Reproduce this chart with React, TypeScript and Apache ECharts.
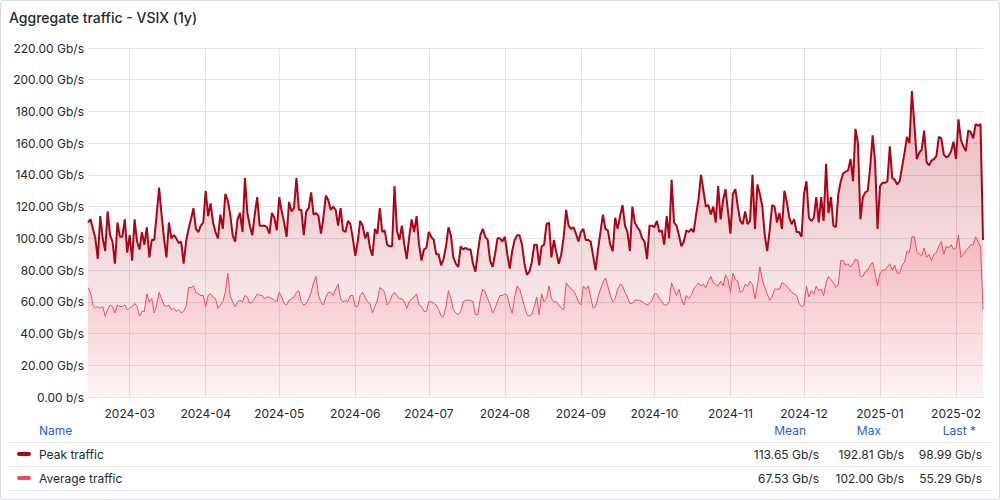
import React, { useEffect, useRef } from 'react';
import * as echarts from 'echarts';

const TITLE = 'Aggregate traffic - VSIX (1y)';
const START_DATE = [2024, 1, 13]; // 2024-02-13, one point per day
const seriesNames = ['Peak traffic', 'Average traffic'];
const seriesColors = ['#ad0317', '#f2495c'];

const peakTraffic = [
  110, 112, 106, 100, 87, 114, 100, 92, 117, 102, 98, 84, 110, 101, 101, 112, 91, 102, 86, 112, 98, 93, 104, 96, 107, 88, 99, 99, 115, 132, 115, 100, 88, 110, 100, 102,
  100, 97, 98, 84, 98, 106, 112, 119, 106, 104, 108, 110, 130, 114, 122, 110, 104, 100, 115, 106, 128, 124, 115, 102, 98, 112, 116, 104, 138, 116, 108, 102, 115, 126, 108, 108, 108,
  107, 103, 116, 113, 105, 126, 117, 110, 101, 123, 117, 119, 138, 118, 118, 102, 117, 119, 129, 115, 116, 114, 103, 113, 127, 124, 118, 120, 118, 108, 119, 105, 104, 111, 109, 100, 89,
  98, 111, 108, 100, 104, 94, 89, 106, 103, 119, 104, 105, 96, 95, 95, 133, 105, 99, 108, 96, 87, 101, 112, 104, 114, 96, 86, 93, 94, 104, 101, 99, 90, 90, 83, 87, 95,
  107, 102, 88, 84, 82, 95, 93, 94, 93, 93, 84, 79, 91, 102, 106, 101, 99, 86, 82, 90, 100, 100, 98, 101, 90, 81, 92, 99, 102, 102, 96, 84, 77, 79, 85, 96,
  96, 83, 95, 96, 109, 110, 88, 99, 91, 84, 90, 101, 118, 108, 106, 107, 103, 98, 104, 106, 99, 99, 98, 89, 80, 93, 104, 115, 106, 105, 96, 92, 113, 106, 114, 121, 108,
  104, 92, 120, 110, 107, 105, 100, 98, 87, 108, 108, 107, 111, 104, 105, 96, 114, 100, 137, 110, 108, 102, 95, 98, 105, 104, 106, 104, 115, 125, 140, 130, 120, 121, 115, 120, 110,
  133, 112, 124, 131, 117, 103, 128, 131, 120, 111, 109, 117, 109, 111, 140, 106, 134, 128, 120, 102, 92, 105, 121, 120, 110, 116, 106, 130, 123, 113, 109, 112, 104, 104, 101, 128, 136,
  113, 111, 113, 126, 110, 126, 111, 147, 116, 126, 108, 107, 128, 136, 141, 142, 143, 150, 136, 169, 160, 112, 126, 129, 130, 145, 165, 148, 106, 133, 135, 135, 136, 158, 138, 137, 134,
  136, 145, 154, 164, 160, 192.81, 172, 150, 154, 156, 168, 148, 146, 149, 150, 152, 164, 163, 153, 151, 152, 155, 161, 150, 175, 162, 158, 155, 168, 167, 163, 172, 171, 172, 98.99,
];

const averageTraffic = [
  69, 66, 58, 56, 57, 56, 57, 51, 55, 58, 57, 53, 58, 57, 57, 58, 55, 56, 57, 59, 57, 51, 54, 54, 65, 60, 62, 53, 58, 66, 62, 58, 57, 58, 55, 56,
  54, 55, 53, 54, 57, 69, 69, 70, 66, 65, 64, 64, 57, 64, 65, 63, 62, 56, 58, 60, 66, 78, 64, 60, 57, 60, 61, 60, 64, 63, 59, 60, 62, 65, 64, 64, 62,
  63, 63, 62, 61, 60, 66, 63, 59, 58, 61, 62, 63, 66, 67, 60, 58, 59, 62, 66, 72, 76, 64, 60, 58, 63, 66, 66, 64, 68, 71, 62, 60, 61, 60, 64, 64, 57,
  57, 64, 66, 63, 60, 59, 53, 57, 61, 69, 68, 66, 58, 60, 64, 66, 64, 62, 62, 60, 56, 60, 62, 63, 65, 58, 57, 54, 54, 60, 60, 59, 58, 55, 51, 51, 57,
  67, 62, 55, 53, 52, 54, 60, 61, 61, 61, 60, 52, 52, 62, 68, 66, 62, 58, 53, 56, 60, 64, 64, 65, 64, 57, 53, 63, 70, 68, 63, 57, 52, 51, 52, 57,
  63, 52, 65, 60, 62, 70, 62, 60, 60, 58, 56, 55, 72, 70, 68, 67, 64, 60, 58, 70, 68, 70, 63, 56, 57, 63, 68, 72, 75, 70, 64, 60, 62, 68, 71, 70, 66,
  63, 59, 59, 61, 61, 61, 60, 59, 58, 59, 61, 65, 65, 62, 60, 58, 58, 60, 72, 68, 64, 68, 62, 58, 64, 62, 64, 68, 70, 72, 70, 71, 69, 73, 76, 72, 71,
  70, 73, 70, 77, 74, 66, 78, 74, 73, 66, 67, 71, 70, 73, 71, 62, 70, 82, 74, 69, 65, 61, 63, 68, 68, 68, 72, 71, 70, 68, 66, 65, 64, 59, 57, 58, 70,
  63, 67, 65, 70, 67, 68, 64, 72, 76, 74, 72, 69, 71, 86, 86, 83, 84, 82, 84, 87, 86, 76, 76, 79, 80, 83, 85, 78, 70, 78, 80, 80, 82, 84, 80, 83, 78,
  78, 83, 85, 92, 91, 101, 101, 92, 90, 89, 94, 88, 90, 86, 90, 91, 95, 98, 90, 95, 94, 96, 93, 94, 102, 88, 90, 92, 94, 96, 96, 101, 98, 95, 55.29,
];

const legendHeaders = ['Name', 'Mean', 'Max', 'Last *'];
const peakStats = ['113.65 Gb/s', '192.81 Gb/s', '98.99 Gb/s'];
const averageStats = ['67.53 Gb/s', '102.00 Gb/s', '55.29 Gb/s'];

const pad = (n: number) => (n < 10 ? '0' + n : '' + n);
const dates = peakTraffic.map((_, i) => {
  const d = new Date(Date.UTC(START_DATE[0], START_DATE[1], START_DATE[2]) + i * 86400000);
  return `${d.getUTCFullYear()}-${pad(d.getUTCMonth() + 1)}-${pad(d.getUTCDate())}`;
});

const isMonthStart = (_: number, v: string) => typeof v === 'string' && v.slice(8) === '01';

const FONT = 'Inter';
const TEXT = '#24292e';
const BLUE = '#1f62e0';

export default function App() {
  const ref = useRef<HTMLDivElement>(null);
  useEffect(() => {
    if (!ref.current) return;
    const chart = echarts.init(ref.current, undefined, { renderer: 'svg' });
    const colX = [819, 904, 982];
    const headX = [806, 881, 976];
    const rowY = [454, 478];
    const rows = [peakStats, averageStats];
    const graphics: any[] = [
      {
        type: 'rect', silent: true, z: 100,
        shape: { x: 0.5, y: 0.5, width: 999, height: 499, r: 2 },
        style: { fill: 'none', stroke: '#d9d9dd', lineWidth: 1 },
      },
      {
        type: 'text', silent: true,
        style: { text: TITLE, x: 9, y: 17, fill: TEXT, fontSize: 14, fontWeight: 500, fontFamily: FONT, verticalAlign: 'middle', textVerticalAlign: 'middle' },
      },
      {
        type: 'text', silent: true,
        style: { text: legendHeaders[0], x: 39, y: 430, fill: BLUE, fontSize: 12, fontFamily: FONT, verticalAlign: 'middle', textVerticalAlign: 'middle' },
      },
    ];
    for (let i = 1; i < legendHeaders.length; i++) {
      graphics.push({
        type: 'text', silent: true,
        style: { text: legendHeaders[i], x: headX[i - 1], y: 430, fill: BLUE, fontSize: 12, fontFamily: FONT, align: 'right', textAlign: 'right', verticalAlign: 'middle', textVerticalAlign: 'middle' },
      });
    }
    [442.5, 466.5, 490.5].forEach((y) => {
      graphics.push({
        type: 'line', silent: true,
        shape: { x1: 9, y1: y, x2: 991, y2: y },
        style: { stroke: '#e6e6e8', lineWidth: 1 },
      });
    });
    seriesNames.forEach((name, r) => {
      graphics.push({
        type: 'rect', silent: true,
        shape: { x: 17, y: rowY[r] - 2, width: 14, height: 4, r: 2 },
        style: { fill: seriesColors[r] },
      });
      graphics.push({
        type: 'text', silent: true,
        style: { text: name, x: 39, y: rowY[r], fill: TEXT, fontSize: 12, fontFamily: FONT, verticalAlign: 'middle', textVerticalAlign: 'middle' },
      });
      rows[r].forEach((t, c) => {
        graphics.push({
          type: 'text', silent: true,
          style: { text: t, x: colX[c], y: rowY[r], fill: TEXT, fontSize: 12, fontFamily: FONT, align: 'right', textAlign: 'right', verticalAlign: 'middle', textVerticalAlign: 'middle' },
        });
      });
    });

    const grad = (rgb: string, top: number, bottom: number) => ({
      type: 'linear', x: 0, y: 48, x2: 0, y2: 397, global: true,
      colorStops: [
        { offset: 0, color: `rgba(${rgb},${top})` },
        { offset: 1, color: `rgba(${rgb},${bottom})` },
      ],
    });

    chart.setOption({
      animation: false,
      backgroundColor: '#ffffff',
      textStyle: { fontFamily: FONT },
      grid: { left: 88, right: 17, top: 48, bottom: 103, containLabel: false },
      xAxis: {
        type: 'category',
        data: dates,
        boundaryGap: false,
        axisLine: { show: false },
        axisTick: { show: false },
        axisLabel: {
          interval: isMonthStart,
          formatter: (v: string) => v.slice(0, 7),
          color: TEXT, fontSize: 12, fontFamily: FONT, margin: 10,
        },
        splitLine: { show: true, interval: isMonthStart, lineStyle: { color: '#e4e4e6', width: 1 } },
      },
      yAxis: {
        type: 'value',
        min: 0, max: 220, interval: 20,
        axisLine: { show: false },
        axisTick: { show: false },
        axisLabel: {
          formatter: (v: number) => (v === 0 ? '0.00 b/s' : v.toFixed(2) + ' Gb/s'),
          color: TEXT, fontSize: 12, fontFamily: FONT, margin: 4,
        },
        splitLine: { lineStyle: { color: '#e4e4e6', width: 1 } },
      },
      series: [
        {
          name: seriesNames[0], type: 'line', data: peakTraffic, showSymbol: false, symbol: 'none', z: 2,
          lineStyle: { color: seriesColors[0], width: 2 },
          areaStyle: { color: grad('173,3,23', 0.45, 0.02) },
        },
        {
          name: seriesNames[1], type: 'line', data: averageTraffic, showSymbol: false, symbol: 'none', z: 3,
          lineStyle: { color: seriesColors[1], width: 1 },
          areaStyle: { color: grad('242,73,92', 0.6, 0.06) },
        },
      ],
      graphic: graphics,
    });
    return () => chart.dispose();
  }, []);
  return <div ref={ref} style={{ position: 'absolute', left: 0, top: 0, width: 1000, height: 500, background: '#fff' }} />;
}
